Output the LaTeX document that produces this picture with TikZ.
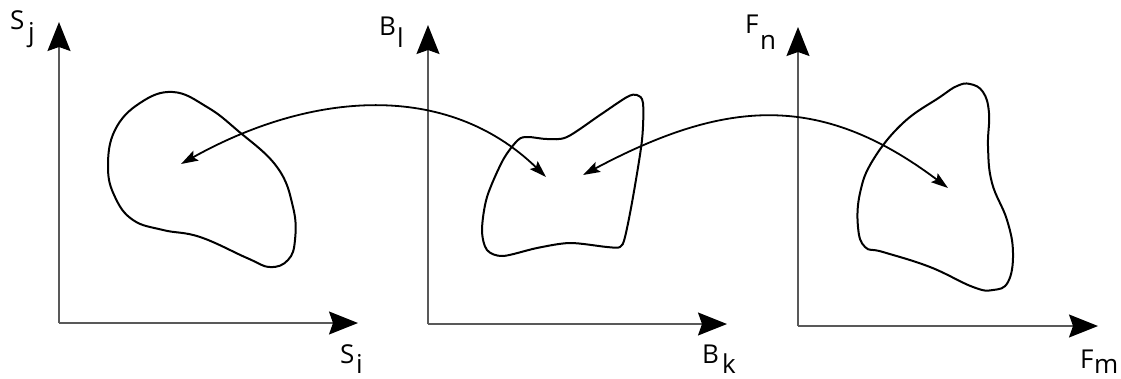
\documentclass[tikz,border=0pt]{standalone}
\usepackage{fontspec}
\setmainfont{Open Sans}
\usetikzlibrary{arrows.meta}
\begin{document}
\begin{tikzpicture}[x=1pt,y=-1pt,
  axis/.style={draw=black!65,line width=1.6pt,-{Stealth[length=29,width=23,inset=4,black]}},
  blob/.style={draw=black,line width=2pt,smooth cycle,tension=0.7},
  link/.style={draw=black,line width=1.8pt,{Stealth[length=17,width=11,inset=3]}-{Stealth[length=17,width=11,inset=3]}},
  lbl/.style={font=\fontsize{26}{26}\selectfont,inner sep=0pt,anchor=base west}]
\useasboundingbox (0,0) rectangle (1121,378);
% axes
\coordinate (O1) at (59,323); \coordinate (Y1) at (59,22); \coordinate (X1) at (358,323);
\coordinate (O2) at (428,324); \coordinate (Y2) at (428,25); \coordinate (X2) at (727,324);
\coordinate (O3) at (798,326); \coordinate (Y3) at (798,27); \coordinate (X3) at (1098,326);
\draw[axis] (O1) -- (Y1);
\draw[axis] (O1) -- (X1);
\draw[axis] (O2) -- (Y2);
\draw[axis] (O2) -- (X2);
\draw[axis] (O3) -- (Y3);
\draw[axis] (O3) -- (X3);
% labels
\node[lbl] (sj) at (10,29) {S};   \node[lbl] (sjs) at (28,41) {j};
\node[lbl] (si) at (340,363) {S}; \node[lbl] (sis) at (356,373) {i};
\node[lbl] (bl) at (379,35) {B};  \node[lbl] (bls) at (397,47) {l};
\node[lbl] (bk) at (702,363) {B}; \node[lbl] (bks) at (722,373) {k};
\node[lbl] (fn) at (745,33) {F};  \node[lbl] (fns) at (760,49) {n};
\node[lbl] (fm) at (1080,368) {F};\node[lbl] (fms) at (1094,373) {m};
% blobs
\draw[blob] plot coordinates {(173,92) (207,107) (237,130) (277,167) (293,207) (295,240) (288,260) (270,267) (247,258) (200,237) (163,230) (133,220) (115,197) (108,167) (115,130) (140,103)};
\draw[blob,tension=0.5] plot coordinates {(637,95) (643,103) (642,140) (633,197) (625,237) (620,247) (607,247) (570,243) (537,248) (503,256) (487,250) (482,230) (487,197) (503,160) (518,140) (528,137) (547,139) (567,137) (600,115) (627,97)};
\draw[blob] plot coordinates {(970,84) (983,92) (989,113) (988,147) (992,183) (1007,220) (1013,253) (1008,282) (993,290) (973,287) (930,267) (883,252) (865,247) (858,227) (860,193) (873,160) (903,123) (940,97) (957,86)};
% connectors
\coordinate (a1) at (181,164); \coordinate (a2) at (546,177);
\coordinate (b1) at (583,175); \coordinate (b2) at (948,188);
\draw[link] (a1) .. controls (312,91) and (447,81) .. (a2);
\draw[link] (b1) .. controls (724,100) and (819,91) .. (b2);
\end{tikzpicture}
\end{document}
